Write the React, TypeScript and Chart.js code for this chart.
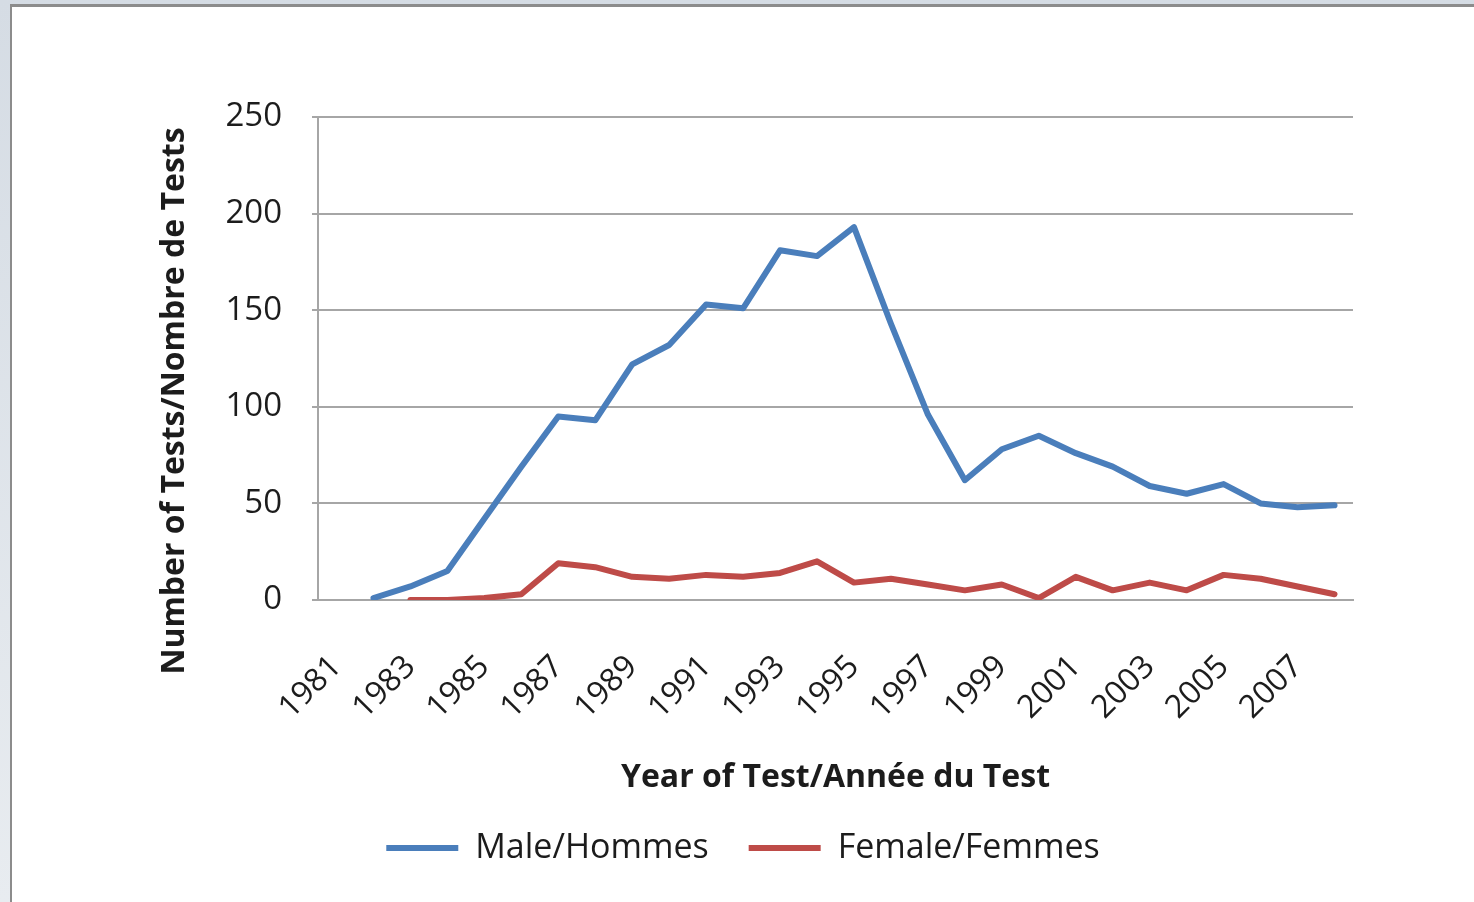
import React, { useEffect, useRef } from "react";
import { Chart, registerables } from "chart.js";

Chart.register(...registerables);

const years: string[] = [
  "1981", "1982", "1983", "1984", "1985", "1986", "1987", "1988", "1989", "1990",
  "1991", "1992", "1993", "1994", "1995", "1996", "1997", "1998", "1999", "2000",
  "2001", "2002", "2003", "2004", "2005", "2006", "2007", "2008",
];

const maleValues: (number | null)[] = [
  null, 1, 7, 15, 42, 69, 95, 93, 122, 132,
  153, 151, 181, 178, 193, 143, 96, 62, 78, 85,
  76, 69, 59, 55, 60, 50, 48, 49,
];

const femaleValues: (number | null)[] = [
  null, null, 0, 0, 1, 3, 19, 17, 12, 11,
  13, 12, 14, 20, 9, 11, 8, 5, 8, 1,
  12, 5, 9, 5, 13, 11, 7, 3,
];

const shownTickLabels: string[] = [
  "1981", "1983", "1985", "1987", "1989", "1991", "1993",
  "1995", "1997", "1999", "2001", "2003", "2005", "2007",
];

const seriesNames = ["Male/Hommes", "Female/Femmes"];
const xTitle = "Year of Test/Année du Test";
const yTitle = "Number of Tests/Nombre de Tests";

const FONT = "'Open Sans', 'DejaVu Sans', sans-serif";
const TEXT = "#1c1c1c";

const yTitlePlugin = {
  id: "yTitlePlugin",
  afterDraw(chart: any) {
    const ctx = chart.ctx as CanvasRenderingContext2D;
    ctx.save();
    ctx.translate(163, 394);
    ctx.rotate(-Math.PI / 2);
    ctx.font = `bold 32px ${FONT}`;
    ctx.fillStyle = TEXT;
    ctx.textAlign = "center";
    ctx.textBaseline = "middle";
    ctx.fillText(yTitle, 0, 0);
    ctx.restore();
  },
};

function ChartView() {
  const ref = useRef<HTMLCanvasElement | null>(null);
  useEffect(() => {
    if (!ref.current) return;
    const chart = new Chart(ref.current, {
      type: "line",
      data: {
        labels: years,
        datasets: [
          {
            label: seriesNames[0],
            data: maleValues,
            borderColor: "#4a7ebb",
            backgroundColor: "#4a7ebb",
            borderWidth: 6,
            pointRadius: 0,
            tension: 0,
            borderJoinStyle: "round",
            borderCapStyle: "round",
          },
          {
            label: seriesNames[1],
            data: femaleValues,
            borderColor: "#be4b48",
            backgroundColor: "#be4b48",
            borderWidth: 6,
            pointRadius: 0,
            tension: 0,
            borderJoinStyle: "round",
            borderCapStyle: "round",
          },
        ],
      },
      options: {
        animation: false,
        responsive: false,
        maintainAspectRatio: false,
        layout: { padding: { left: 0, right: 0, top: 110, bottom: 27 } },
        plugins: {
          legend: {
            position: "bottom",
            align: "center",
            labels: {
              usePointStyle: true,
              pointStyle: "line",
              pointStyleWidth: 72,
              boxHeight: 34,
              padding: 40,
              color: TEXT,
              font: { family: FONT, size: 34 },
            },
          },
          tooltip: { enabled: false },
        },
        scales: {
          x: {
            type: "category",
            offset: true,
            grid: { display: false },
            border: { display: true, color: "#a6a6a6", width: 2 },
            ticks: {
              autoSkip: false,
              minRotation: 45,
              maxRotation: 45,
              padding: 40,
              color: TEXT,
              font: { family: FONT, size: 32 },
              callback: (_v: any, i: number) =>
                shownTickLabels.includes(years[i]) ? years[i] : "",
            },
            title: {
              display: true,
              text: xTitle,
              color: TEXT,
              font: { family: FONT, size: 32, weight: "bold" },
              padding: { top: 0, bottom: -6 },
            },
            afterFit: (scale: any) => {
              scale.height = 191;
            },
          },
          y: {
            min: 0,
            max: 250,
            grid: { color: "#a6a6a6", lineWidth: 2, tickLength: 6 },
            border: { display: true, color: "#a6a6a6", width: 2 },
            ticks: {
              stepSize: 50,
              padding: 30,
              color: TEXT,
              font: { family: FONT, size: 33 },
            },
            afterFit: (scale: any) => {
              scale.width = 306;
            },
          },
          yRight: {
            position: "right",
            display: true,
            grid: { display: false, drawTicks: false },
            border: { display: false },
            ticks: { display: false },
            afterFit: (scale: any) => {
              scale.width = 121;
            },
          },
        },
      },
      plugins: [yTitlePlugin],
    } as any);
    return () => chart.destroy();
  }, []);
  return <canvas ref={ref} width={1462} height={895} style={{ display: "block" }} />;
}

export default function App() {
  return (
    <div
      style={{
        position: "absolute",
        left: 0,
        top: 0,
        width: 1474,
        height: 902,
        background: "linear-gradient(180deg, #d5dce4 0%, #e8ecf0 100%)",
        overflow: "hidden",
      }}
    >
      <div
        style={{
          position: "absolute",
          left: 10,
          top: 4,
          width: 1464,
          height: 898,
          background: "#ffffff",
          borderLeft: "2px solid #8c8c8c",
          borderTop: "3px solid #8c8c8c",
          boxSizing: "border-box",
        }}
      >
        <ChartView />
      </div>
    </div>
  );
}
